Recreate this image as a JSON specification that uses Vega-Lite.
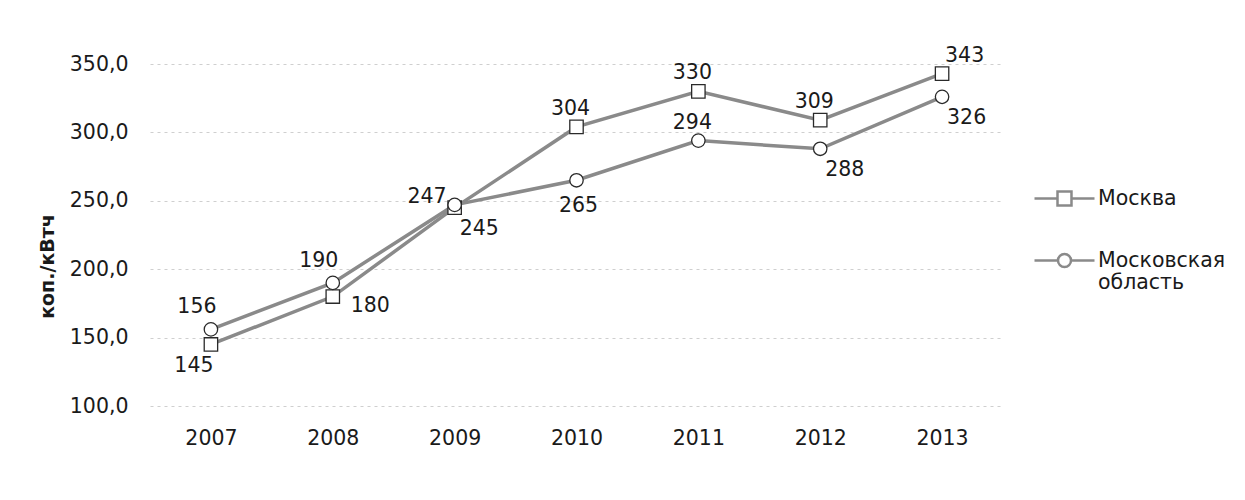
{
  "$schema": "https://vega.github.io/schema/vega-lite/v6.json",
  "autosize": {"type": "none"},
  "width": 853,
  "height": 342,
  "padding": {"left": 150, "top": 64, "right": 242, "bottom": 94},
  "background": "white",
  "config": {
    "view": {"stroke": null},
    "font": "DejaVu Sans",
    "axis": {"labelFont": "DejaVu Sans", "labelFontSize": 20.5, "labelColor": "#1a1a1a", "titleFont": "DejaVu Sans"}
  },
  "data": {
    "values": [
      {"year": "2007", "series": "Москва", "value": 145},
      {"year": "2008", "series": "Москва", "value": 180},
      {"year": "2009", "series": "Москва", "value": 245},
      {"year": "2010", "series": "Москва", "value": 304},
      {"year": "2011", "series": "Москва", "value": 330},
      {"year": "2012", "series": "Москва", "value": 309},
      {"year": "2013", "series": "Москва", "value": 343},
      {"year": "2007", "series": "Московская область", "value": 156},
      {"year": "2008", "series": "Московская область", "value": 190},
      {"year": "2009", "series": "Московская область", "value": 247},
      {"year": "2010", "series": "Московская область", "value": 265},
      {"year": "2011", "series": "Московская область", "value": 294},
      {"year": "2012", "series": "Московская область", "value": 288},
      {"year": "2013", "series": "Московская область", "value": 326}
    ]
  },
  "encoding": {
    "x": {
      "field": "year", "type": "ordinal",
      "scale": {"type": "point", "padding": 0.5},
      "axis": {"title": null, "labelAngle": 0, "domain": false, "ticks": false, "tickSize": 0, "labelPadding": 22, "grid": false}
    },
    "y": {
      "field": "value", "type": "quantitative",
      "scale": {"domain": [100, 350], "nice": false, "zero": false},
      "axis": {
        "title": "коп./кВтч",
        "titleFontSize": 19,
        "titleFontWeight": "bold",
        "titleColor": "#1a1a1a",
        "titleX": -103,
        "titleY": 202,
        "titleAngle": -90,
        "titleAlign": "center",
        "titleBaseline": "middle",
        "values": [100, 150, 200, 250, 300, 350],
        "labelExpr": "replace(format(datum.value, '.1f'), '.', ',')",
        "domain": false,
        "ticks": false,
        "tickSize": 0,
        "labelPadding": 22,
        "grid": true,
        "gridColor": "#cfcfcf",
        "gridDash": [3, 4],
        "gridWidth": 1
      }
    }
  },
  "layer": [
    {
      "mark": {"type": "line", "stroke": "#8a8a8a", "strokeWidth": 3.5},
      "encoding": {"detail": {"field": "series"}}
    },
    {
      "mark": {"type": "point", "filled": false, "fill": "white", "fillOpacity": 1, "stroke": "#2a2a2a", "strokeWidth": 1.3, "opacity": 1},
      "encoding": {
        "shape": {
          "field": "series", "type": "nominal",
          "scale": {"domain": ["Москва", "Московская область"], "range": ["square", "circle"]},
          "legend": null
        },
        "size": {"value": 180}
      }
    },
    {
      "mark": {"type": "point", "filled": false, "opacity": 0},
      "encoding": {
        "shape": {
          "field": "series", "type": "nominal",
          "scale": {
            "domain": ["Москва", "Московская область"],
            "range": [
              "M-1,0H-0.233M0.233,0H1M-0.233,-0.233H0.233V0.233H-0.233Z",
              "M-1,0H-0.217M0.217,0H1M0.217,0A0.217,0.217,0,1,1,-0.217,0A0.217,0.217,0,1,1,0.217,0Z"
            ]
          },
          "legend": {
            "title": null,
            "orient": "none",
            "legendX": 883,
            "legendY": 103,
            "padding": 0,
            "rowPadding": 18,
            "symbolSize": 3600,
            "symbolOpacity": 1,
            "symbolStrokeColor": "#8a8a8a",
            "symbolFillColor": "white",
            "symbolStrokeWidth": 2.5,
            "labelFont": "DejaVu Sans",
            "labelFontSize": 20.5,
            "labelColor": "#1a1a1a",
            "labelOffset": 2,
            "labelLimit": 300,
            "labelExpr": "datum.label == 'Московская область' ? ['Московская', 'область'] : datum.label"
          }
        }
      }
    },
    {
      "transform": [{"filter": "(datum.series == 'Москва' && indexof(['2010','2011','2012'], datum.year) >= 0) || (datum.series == 'Московская область' && datum.year == '2011')"}],
      "mark": {"type": "text", "font": "DejaVu Sans", "fontSize": 20.5, "color": "#1a1a1a", "align": "center", "baseline": "alphabetic", "dx": -6, "dy": -12},
      "encoding": {"text": {"field": "value"}}
    },
    {
      "transform": [{"filter": "datum.series == 'Московская область' && indexof(['2007','2008'], datum.year) >= 0"}],
      "mark": {"type": "text", "font": "DejaVu Sans", "fontSize": 20.5, "color": "#1a1a1a", "align": "center", "baseline": "alphabetic", "dx": -14, "dy": -16},
      "encoding": {"text": {"field": "value"}}
    },
    {
      "transform": [{"filter": "datum.series == 'Москва' && datum.year == '2007'"}],
      "mark": {"type": "text", "font": "DejaVu Sans", "fontSize": 20.5, "color": "#1a1a1a", "align": "center", "baseline": "alphabetic", "dx": -17, "dy": 28},
      "encoding": {"text": {"field": "value"}}
    },
    {
      "transform": [{"filter": "datum.series == 'Московская область' && datum.year == '2010'"}],
      "mark": {"type": "text", "font": "DejaVu Sans", "fontSize": 20.5, "color": "#1a1a1a", "align": "center", "baseline": "alphabetic", "dx": 2, "dy": 32},
      "encoding": {"text": {"field": "value"}}
    },
    {
      "transform": [{"filter": "(datum.series == 'Москва' && datum.year == '2009') || (datum.series == 'Московская область' && indexof(['2012','2013'], datum.year) >= 0)"}],
      "mark": {"type": "text", "font": "DejaVu Sans", "fontSize": 20.5, "color": "#1a1a1a", "align": "left", "baseline": "alphabetic", "dx": 5, "dy": 27},
      "encoding": {"text": {"field": "value"}}
    },
    {
      "transform": [{"filter": "datum.series == 'Москва' && datum.year == '2008'"}],
      "mark": {"type": "text", "font": "DejaVu Sans", "fontSize": 20.5, "color": "#1a1a1a", "align": "left", "baseline": "alphabetic", "dx": 18, "dy": 15},
      "encoding": {"text": {"field": "value"}}
    },
    {
      "transform": [{"filter": "datum.series == 'Московская область' && datum.year == '2009'"}],
      "mark": {"type": "text", "font": "DejaVu Sans", "fontSize": 20.5, "color": "#1a1a1a", "align": "right", "baseline": "alphabetic", "dx": -8, "dy": -2},
      "encoding": {"text": {"field": "value"}}
    },
    {
      "transform": [{"filter": "datum.series == 'Москва' && datum.year == '2013'"}],
      "mark": {"type": "text", "font": "DejaVu Sans", "fontSize": 20.5, "color": "#1a1a1a", "align": "left", "baseline": "alphabetic", "dx": 3, "dy": -12},
      "encoding": {"text": {"field": "value"}}
    }
  ],
  "resolve": {"scale": {"shape": "independent"}}
}
